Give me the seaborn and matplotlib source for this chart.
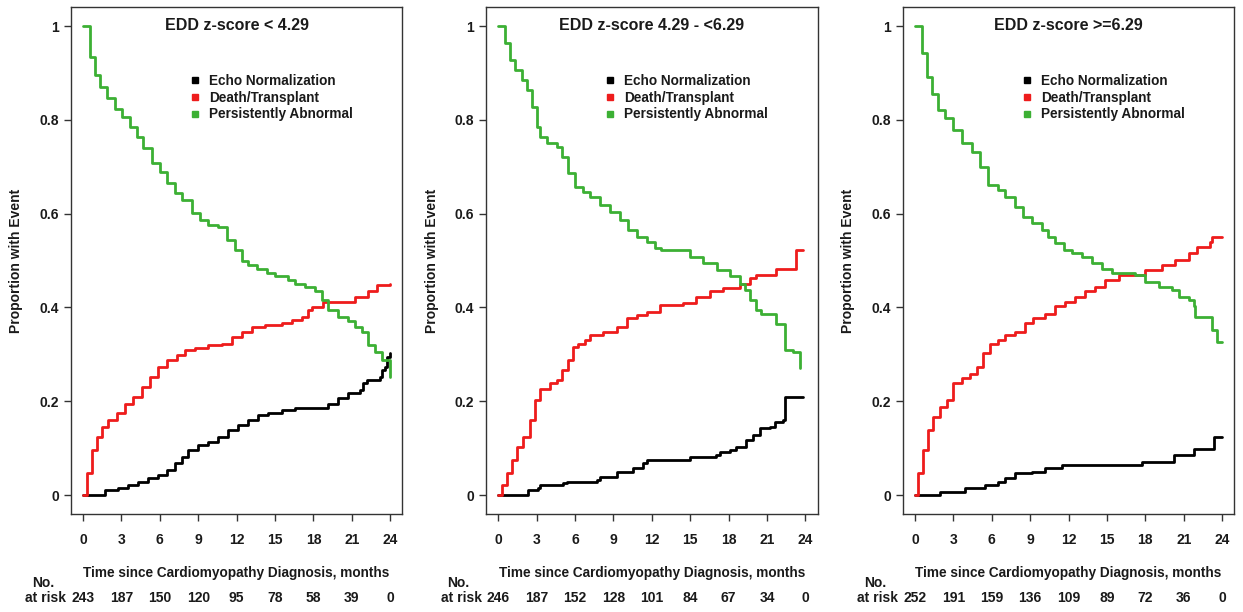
import numpy as np
import pandas as pd
import matplotlib
matplotlib.use("Agg")
import matplotlib.pyplot as plt
import matplotlib.transforms as mtransforms
from matplotlib.lines import Line2D
import seaborn as sns

sns.set_theme(style="white")
plt.rcParams['font.family'] = ['Liberation Sans', 'DejaVu Sans']
plt.rcParams['font.weight'] = 'bold'

# ---------------- data ----------------
titles = ["EDD z-score < 4.29", "EDD z-score 4.29 - <6.29", "EDD z-score >=6.29"]
series_names = ["Echo Normalization", "Death/Transplant", "Persistently Abnormal"]
x_ticks = [0, 3, 6, 9, 12, 15, 18, 21, 24]
y_ticks = [0, 0.2, 0.4, 0.6, 0.8, 1.0]
y_tick_labels = ["0", "0.2", "0.4", "0.6", "0.8", "1"]

at_risk_1 = [243, 187, 150, 120, 95, 78, 58, 39, 0]
at_risk_2 = [246, 187, 152, 128, 101, 84, 67, 34, 0]
at_risk_3 = [252, 191, 159, 136, 109, 89, 72, 36, 0]

# Panel 1 (EDD z-score < 4.29)
p1_echo_t = [0, 1.33, 1.72, 2.76, 3.54, 4.32, 5.1, 5.89, 6.54, 7.19, 7.71, 8.23, 9.01, 9.79, 10.57, 11.35, 12.14, 12.92, 13.7, 14.48, 15.52, 16.56, 18.39, 19.17, 19.95, 20.73, 21.64, 21.9, 22.16, 23.2, 23.33, 23.6, 23.72, 23.98]
p1_echo_v = [0, 0.0, 0.011, 0.014, 0.021, 0.028, 0.036, 0.043, 0.053, 0.068, 0.082, 0.096, 0.107, 0.114, 0.124, 0.139, 0.149, 0.160, 0.171, 0.174, 0.181, 0.185, 0.185, 0.195, 0.206, 0.217, 0.224, 0.238, 0.245, 0.252, 0.267, 0.274, 0.295, 0.302]
p1_dt_t = [0, 0.29, 0.68, 1.07, 1.46, 1.98, 2.63, 3.28, 3.93, 4.58, 5.23, 5.89, 6.54, 7.32, 7.97, 8.75, 9.79, 10.83, 11.61, 12.4, 13.18, 14.22, 15.52, 16.3, 17.08, 17.6, 17.86, 18.78, 21.12, 21.25, 22.16, 22.29, 22.81, 22.94, 24.0]
p1_dt_v = [0, 0.046, 0.096, 0.124, 0.146, 0.160, 0.174, 0.195, 0.210, 0.231, 0.252, 0.274, 0.288, 0.299, 0.309, 0.313, 0.320, 0.323, 0.338, 0.348, 0.359, 0.362, 0.366, 0.373, 0.380, 0.394, 0.400, 0.412, 0.412, 0.423, 0.423, 0.434, 0.434, 0.448, 0.450]
p1_pa_t = [0, 0.55, 0.94, 1.33, 1.85, 2.5, 3.02, 3.67, 4.19, 4.71, 5.36, 6.02, 6.54, 7.19, 7.71, 8.49, 9.14, 9.79, 10.57, 11.22, 11.88, 12.4, 12.9, 13.57, 14.35, 15.0, 16.04, 16.56, 17.34, 18.13, 18.65, 19.17, 19.95, 20.73, 21.25, 21.77, 22.29, 22.81, 23.33, 23.98]
p1_pa_v = [1.0, 0.935, 0.896, 0.871, 0.846, 0.824, 0.807, 0.785, 0.764, 0.739, 0.707, 0.689, 0.665, 0.643, 0.629, 0.601, 0.586, 0.576, 0.572, 0.544, 0.522, 0.498, 0.490, 0.483, 0.473, 0.466, 0.458, 0.451, 0.444, 0.434, 0.416, 0.394, 0.380, 0.370, 0.359, 0.348, 0.320, 0.306, 0.288, 0.252]

# Panel 2 (EDD z-score 4.29 - <6.29)
p2_echo_t = [0, 2.08, 2.34, 3.12, 3.26, 5.08, 5.34, 7.68, 7.94, 9.24, 10.54, 11.32, 11.58, 14.96, 17.04, 17.31, 18.09, 18.61, 19.39, 19.91, 20.43, 21.21, 21.6, 22.25, 22.38, 23.81]
p2_echo_v = [0, 0.0, 0.011, 0.014, 0.021, 0.025, 0.028, 0.032, 0.039, 0.050, 0.057, 0.068, 0.075, 0.082, 0.085, 0.092, 0.096, 0.103, 0.117, 0.128, 0.142, 0.146, 0.156, 0.160, 0.210, 0.210]
p2_dt_t = [0, 0.26, 0.65, 1.04, 1.43, 1.95, 2.47, 2.86, 3.26, 4.04, 4.56, 4.95, 5.47, 5.86, 6.25, 6.77, 7.16, 8.2, 9.24, 10.02, 10.8, 11.58, 12.62, 14.44, 15.48, 16.53, 17.57, 18.87, 19.65, 20.17, 21.73, 23.29, 23.81]
p2_dt_v = [0, 0.021, 0.046, 0.075, 0.103, 0.124, 0.160, 0.203, 0.227, 0.238, 0.245, 0.267, 0.288, 0.316, 0.323, 0.330, 0.341, 0.348, 0.359, 0.377, 0.384, 0.391, 0.405, 0.409, 0.423, 0.434, 0.441, 0.449, 0.462, 0.469, 0.483, 0.522, 0.522]
p2_pa_t = [0, 0.52, 0.91, 1.3, 1.82, 2.21, 2.6, 2.99, 3.26, 3.78, 4.56, 4.95, 5.47, 5.99, 6.64, 7.16, 7.94, 8.72, 9.5, 10.15, 10.8, 11.58, 12.23, 12.75, 14.96, 16.0, 17.05, 18.09, 18.87, 19.26, 19.65, 20.17, 20.56, 21.73, 22.38, 23.03, 23.55]
p2_pa_v = [1.0, 0.963, 0.927, 0.906, 0.885, 0.864, 0.828, 0.785, 0.764, 0.750, 0.743, 0.721, 0.686, 0.657, 0.647, 0.636, 0.618, 0.604, 0.586, 0.565, 0.551, 0.540, 0.526, 0.522, 0.508, 0.494, 0.480, 0.466, 0.451, 0.437, 0.416, 0.394, 0.387, 0.364, 0.309, 0.306, 0.270]

# Panel 3 (EDD z-score >=6.29)
p3_echo_t = [0, 1.96, 3.91, 5.48, 6.52, 7.04, 7.82, 9.13, 10.17, 11.48, 17.74, 20.21, 21.78, 23.34, 24.0]
p3_echo_v = [0, 0.007, 0.014, 0.021, 0.028, 0.036, 0.046, 0.050, 0.057, 0.064, 0.071, 0.085, 0.099, 0.124, 0.124]
p3_dt_t = [0, 0.26, 0.65, 1.04, 1.43, 1.96, 2.48, 3.0, 3.65, 4.3, 4.83, 5.35, 5.87, 6.52, 7.04, 7.82, 8.61, 9.26, 10.17, 10.95, 11.74, 12.52, 13.3, 14.08, 14.87, 15.91, 18.0, 19.3, 20.34, 21.39, 22.04, 23.08, 23.21, 24.0]
p3_dt_v = [0, 0.046, 0.096, 0.139, 0.167, 0.188, 0.203, 0.238, 0.249, 0.259, 0.274, 0.302, 0.323, 0.330, 0.341, 0.348, 0.366, 0.377, 0.387, 0.402, 0.412, 0.423, 0.434, 0.444, 0.458, 0.469, 0.480, 0.490, 0.501, 0.515, 0.529, 0.540, 0.551, 0.551]
p3_pa_t = [0, 0.52, 0.91, 1.3, 1.83, 2.35, 3.0, 3.65, 4.43, 5.09, 5.74, 6.52, 7.04, 7.82, 8.48, 9.13, 9.91, 10.43, 10.95, 11.61, 12.26, 13.04, 13.82, 14.61, 15.39, 17.21, 18.0, 19.04, 20.08, 20.6, 21.39, 21.78, 21.91, 23.21, 23.6, 24.0]
p3_pa_v = [1.0, 0.942, 0.892, 0.856, 0.821, 0.803, 0.778, 0.750, 0.732, 0.700, 0.661, 0.650, 0.636, 0.615, 0.593, 0.579, 0.565, 0.551, 0.537, 0.522, 0.515, 0.508, 0.494, 0.483, 0.473, 0.469, 0.455, 0.444, 0.437, 0.423, 0.416, 0.402, 0.380, 0.352, 0.327, 0.327]

panels = [
    (titles[0], [(p1_echo_t, p1_echo_v), (p1_dt_t, p1_dt_v), (p1_pa_t, p1_pa_v)], at_risk_1),
    (titles[1], [(p2_echo_t, p2_echo_v), (p2_dt_t, p2_dt_v), (p2_pa_t, p2_pa_v)], at_risk_2),
    (titles[2], [(p3_echo_t, p3_echo_v), (p3_dt_t, p3_dt_v), (p3_pa_t, p3_pa_v)], at_risk_3),
]

colors = ["#000000", "#EE1C1C", "#3CB034"]
txt_col = "#1a1a1a"

# ---------------- figure ----------------
fig = plt.figure(figsize=(12.43, 6.12), dpi=100)
lefts = [0.0569, 0.3910, 0.7262]
width, bottom, height = 0.2669, 0.1605, 0.8276

for i, (title, curves, risk) in enumerate(panels):
    ax = fig.add_axes([lefts[i], bottom, width, height])
    frames = []
    for name, (t, v) in zip(series_names, curves):
        frames.append(pd.DataFrame({"time": t, "value": v, "series": name}))
    df = pd.concat(frames, ignore_index=True)
    for name, col in zip(series_names, colors):
        sub = df[df["series"] == name]
        sns.lineplot(data=sub, x="time", y="value", ax=ax, color=col,
                     estimator=None, sort=False, drawstyle="steps-post",
                     linewidth=2.0, legend=False)
    ax.set_xlim(-0.96, 24.96)
    ax.set_ylim(-0.04, 1.04)
    ax.set_xticks(x_ticks)
    ax.set_xticklabels([str(x) for x in x_ticks], fontsize=10, fontweight='bold', color=txt_col)
    ax.set_yticks(y_ticks)
    ax.set_yticklabels(y_tick_labels, fontsize=10, fontweight='bold', color=txt_col)
    ax.tick_params(axis='both', direction='out', length=5, width=1.0,
                   color='#333333', bottom=True, left=True)
    ax.tick_params(axis='x', pad=9)
    ax.tick_params(axis='y', pad=3.5)
    for s in ax.spines.values():
        s.set_color('#333333')
        s.set_linewidth(1.0)
    ax.set_xlabel("")
    ax.set_ylabel("Proportion with Event", fontsize=10, fontweight='bold',
                  labelpad=11.5, color=txt_col)
    ax.text(0.5, 0.964, title, transform=ax.transAxes, ha='center', va='center',
            fontsize=11.5, fontweight='bold', color=txt_col)

    handles = [Line2D([0], [0], marker='s', linestyle='none', color=c,
                      markersize=4.5) for c in colors]
    ax.legend(handles, series_names, loc='upper left',
              bbox_to_anchor=(0.345, 0.879), frameon=False,
              handlelength=0.6, handletextpad=0.75, labelspacing=0.2,
              borderaxespad=0, prop={'weight': 'bold', 'size': 9.8},
              labelcolor=txt_col)

    ax.text(0.5, -0.117, "Time since Cardiomyopathy Diagnosis, months",
            transform=ax.transAxes, ha='center', va='center', fontsize=9.8,
            fontweight='bold', color=txt_col)
    trans = mtransforms.blended_transform_factory(ax.transData, ax.transAxes)
    for xt, n in zip(x_ticks, risk):
        ax.text(xt, -0.166, str(n), transform=trans, ha='center', va='center',
                fontsize=10, fontweight='bold', color=txt_col)
    ax.text(-1.3, -0.166, "at risk", transform=trans, ha='right', va='center',
            fontsize=10, fontweight='bold', color=txt_col)
    ax.text(-3.1, -0.136, "No.", transform=trans, ha='center', va='center',
            fontsize=10, fontweight='bold', color=txt_col)

fig.savefig("out.png", dpi=100, facecolor='white')
